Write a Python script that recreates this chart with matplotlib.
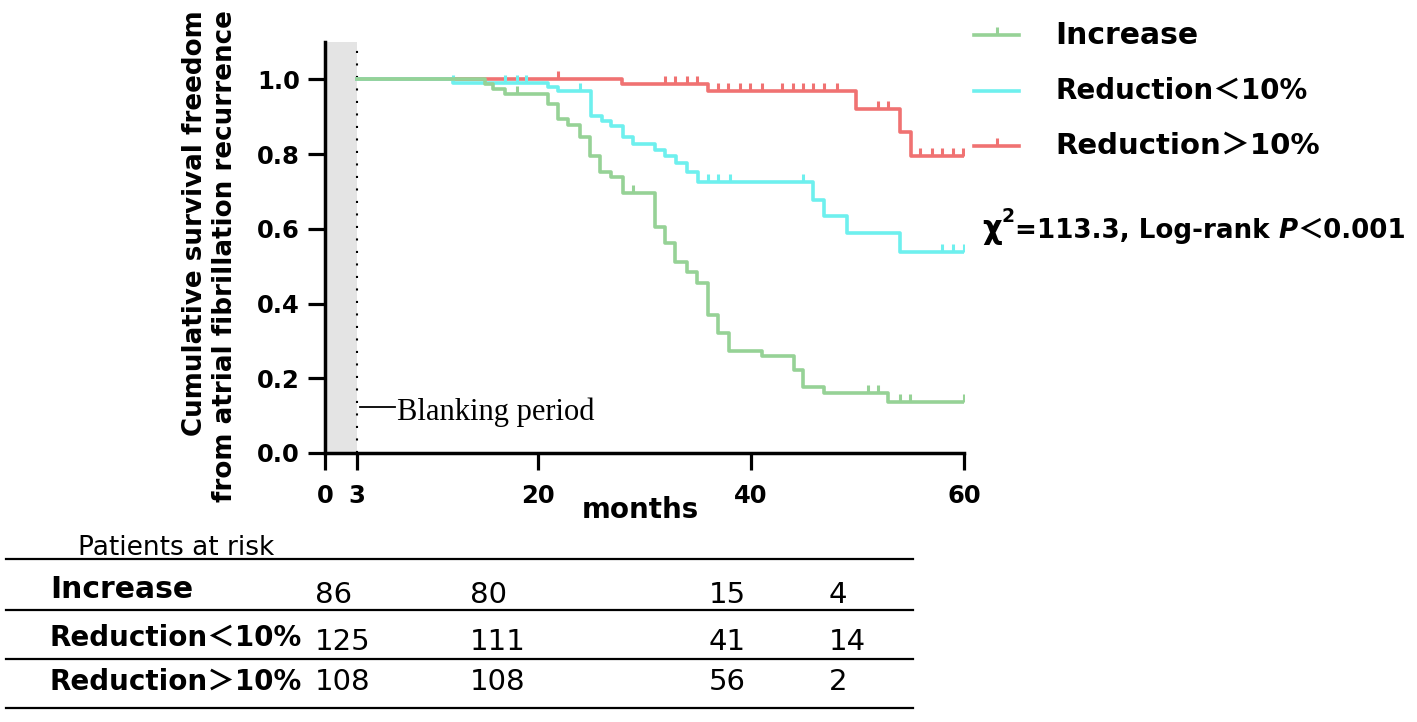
import numpy as np
import matplotlib
matplotlib.use("Agg")
from matplotlib import pyplot as plt
from matplotlib.lines import Line2D
from matplotlib.path import Path

plt.rcParams['font.family'] = ['DejaVu Sans', 'Noto Sans CJK SC']

groups = ['Increase', 'Reduction＜10%', 'Reduction＞10%']
colors = ['#96d296', '#6ef0ee', '#f07272']
end_month = 60

# Kaplan-Meier steps: month of each drop and survival after it (curves start at month 3)
inc_t = [3, 15.0, 15.8, 16.9, 20.9, 21.9, 22.8, 23.9, 24.9, 25.8, 26.9, 28.0,
         31.0, 31.9, 32.9, 34.0, 34.9, 36.0, 36.9, 37.9, 41.0, 44.0, 44.9, 46.9, 52.9]
inc_s = [1.0, 0.987, 0.973, 0.960, 0.933, 0.893, 0.879, 0.847, 0.794, 0.753, 0.740, 0.695,
         0.606, 0.563, 0.512, 0.485, 0.456, 0.370, 0.322, 0.273, 0.260, 0.223, 0.177, 0.161, 0.137]
inc_cens = [18.0, 28.9, 51.0, 51.9, 54.0, 54.9, 60.0]

lt10_t = [3, 12.0, 20.9, 21.9, 25.0, 26.0, 26.9, 28.0, 28.9, 31.0, 31.9, 33.0, 34.0, 35.0,
          45.8, 46.9, 49.0, 54.0]
lt10_s = [1.0, 0.991, 0.979, 0.968, 0.901, 0.888, 0.874, 0.845, 0.826, 0.812, 0.794, 0.777,
          0.751, 0.724, 0.678, 0.633, 0.590, 0.539]
lt10_cens = [12.0, 16.9, 18.0, 18.9, 23.9, 36.0, 36.9, 38.0, 44.9, 57.9, 59.0, 60.0]

gt10_t = [3, 27.9, 36.0, 49.9, 54.0, 55.0]
gt10_s = [1.0, 0.987, 0.968, 0.920, 0.859, 0.794]
gt10_cens = [21.9, 31.9, 32.9, 34.0, 34.9, 36.9, 37.8, 39.0, 39.9, 41.0, 42.9, 43.9, 44.9,
             45.8, 46.9, 48.1, 51.9, 52.9, 55.9, 57.0, 57.9, 59.0, 59.9]

# patients at risk table
risk_increase = [86, 80, 15, 4]
risk_lt10 = [125, 111, 41, 14]
risk_gt10 = [108, 108, 56, 2]

W, H = 1417, 722


def fx(px):
    return px / W


def fy(py):
    return 1 - py / H


# upward censor tick
tick = Path([(0, 0), (0, 1)])

fig = plt.figure(figsize=(W / 100, H / 100), dpi=100)
ax = fig.add_axes([fx(325), fy(453), 639 / W, 411 / H])

ax.axvspan(0, 3, color='#e4e4e4', zorder=0, lw=0)
ax.axvline(3, color='k', ls=(0, (1, 5)), lw=1.5, zorder=1)

curves = [(gt10_t, gt10_s, gt10_cens, colors[2]),
          (lt10_t, lt10_s, lt10_cens, colors[1]),
          (inc_t, inc_s, inc_cens, colors[0])]
for t, s, cens, c in curves:
    ax.step(t + [end_month], s + [s[-1]], where='post', color=c, lw=2.6, zorder=3)
    idx = np.searchsorted(t, cens, side='right') - 1
    ax.plot(cens, np.array(s)[idx], ls='none', marker=tick, ms=11, mew=2.2,
            color=c, zorder=3)

ax.set_xlim(0, 60)
ax.set_ylim(0, 1.1)
ax.set_xticks([0, 3, 20, 40, 60])
ax.set_yticks([0, 0.2, 0.4, 0.6, 0.8, 1.0])
ax.set_yticklabels(['%.1f' % v for v in ax.get_yticks()])
for sp in ['top', 'right']:
    ax.spines[sp].set_visible(False)
for sp in ['left', 'bottom']:
    ax.spines[sp].set_linewidth(2.5)
ax.tick_params(width=2.3, length=12, labelsize=17.5)
ax.tick_params(axis='x', pad=10)
ax.tick_params(axis='y', pad=6)
for lab in ax.get_xticklabels() + ax.get_yticklabels():
    lab.set_fontweight('bold')

ax.set_xlabel('months', fontsize=20, fontweight='bold')
ax.xaxis.set_label_coords(0.494, -0.139)
ax.xaxis.label.set_va('center')
ax.set_ylabel('Cumulative survival freedom\nfrom atrial fibrillation recurrence',
              fontsize=18.8, fontweight='bold', multialignment='right')
ax.yaxis.set_label_coords(-0.18, 0.48)
ax.yaxis.label.set_va('center')

# blanking period note
ax.plot([3.3, 6.6], [0.123, 0.123], color='k', lw=1.3)
ax.text(6.75, 0.088, 'Blanking period', family='Liberation Serif', fontsize=22,
        va='baseline', ha='left')

# legend
leg_y = [35, 91, 146]
leg_size = [21.5, 20, 21]
leg_tick = [True, False, True]
for g, c, py, fs, tk in zip(groups, colors, leg_y, leg_size, leg_tick):
    ln = Line2D([fx(974), fx(997), fx(1019)], [fy(py)] * 3, color=c, lw=2.6)
    if tk:
        ln.set_marker(tick)
        ln.set_markevery([1])
        ln.set_markersize(11)
        ln.set_markeredgewidth(2.2)
    fig.add_artist(ln)
    fig.text(fx(1055), fy(py), g, fontsize=fs, fontweight='bold', va='center', ha='left')

# chi-square text built piece by piece on one baseline
renderer = fig.canvas.get_renderer()
pieces = [('χ', dict(fontsize=22, fontweight='bold'), 0),
          ('2', dict(fontsize=13.5, fontweight='bold'), 16),
          ('=113.3, Log-rank ', dict(fontsize=18.8, fontweight='bold'), 0),
          ('P', dict(fontsize=18.8, fontweight='bold', fontstyle='italic'), 0),
          ('＜0.001', dict(fontsize=18.8, fontweight='bold'), 0)]
x = 982
for s, kw, rise in pieces:
    t = fig.text(fx(x), fy(238 - rise), s, va='baseline', ha='left', **kw)
    x += t.get_window_extent(renderer).width

# patients at risk table
for py in [559, 610, 659, 708]:
    fig.add_artist(Line2D([fx(6), fx(913)], [fy(py)] * 2, color='k', lw=1.6))
fig.text(fx(78), fy(548), 'Patients at risk', fontsize=19, va='center', ha='left')

col_x = [315, 470, 709, 829]
row_label_y = [590, 638, 682]
row_num_y = [595, 642, 682]
row_label_size = [21.5, 20, 20]
for g, vals, ly, ny, fs in zip(groups, [risk_increase, risk_lt10, risk_gt10],
                               row_label_y, row_num_y, row_label_size):
    fig.text(fx(50), fy(ly), g, fontsize=fs, fontweight='bold', va='center', ha='left')
    for cx, v in zip(col_x, vals):
        fig.text(fx(cx), fy(ny), str(v), fontsize=21, va='center', ha='left')

fig.savefig('out.png', dpi=100)
